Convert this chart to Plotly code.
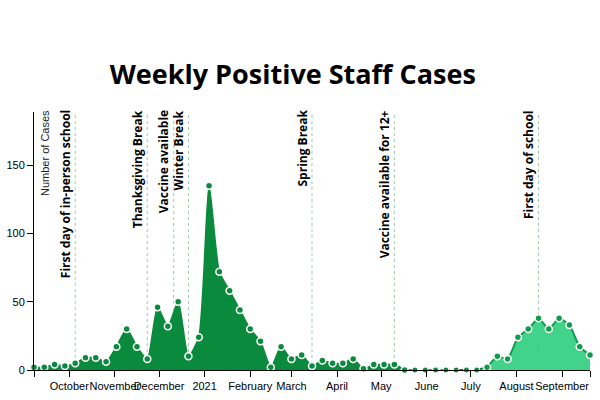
import pandas as pd
import plotly.graph_objects as go

# ---- data ----
year1_start = "2020-09-07"
year1_cases = [2, 2, 4, 3, 5, 9, 9, 6, 17, 30, 17, 8, 46, 32, 50, 10, 24,
               135, 72, 58, 44, 30, 21, 2, 17, 8, 11, 3, 7, 5, 5, 8, 1, 4, 4, 4, 0]
summer_start = "2021-05-17"
summer_cases = [0, 0, 0, 0, 0, 0, 0, 0, 2]
year2_start = "2021-07-12"
year2_cases = [2, 10, 8, 24, 30, 38, 30, 38, 33, 17, 11]

event_dates = ["2020-10-05", "2020-11-23", "2020-12-11", "2020-12-21",
               "2021-03-15", "2021-05-10", "2021-08-16"]
event_labels = ["First day of in-person school", "Thanksgiving Break",
                "Vaccine available", "Winter Break", "Spring Break",
                "Vaccine available for 12+", "First day of school"]

tick_dates = ["2020-09-07", "2020-10-01", "2020-11-01", "2020-12-01", "2021-01-01",
              "2021-02-01", "2021-03-01", "2021-04-01", "2021-05-01", "2021-06-01",
              "2021-07-01", "2021-08-01", "2021-09-01", "2021-09-20"]
tick_text = ["", "October", "November", "December", "2021", "February", "March",
             "April", "May", "June", "July", "August", "September", ""]

y_ticks = [0, 50, 100, 150]

x1 = pd.date_range(year1_start, periods=len(year1_cases), freq="7D")
xs = pd.date_range(summer_start, periods=len(summer_cases), freq="7D")
x2 = pd.date_range(year2_start, periods=len(year2_cases), freq="7D")

DARK = "#0a8a3c"
LIGHT_FILL = "rgba(52,208,130,0.93)"
LIGHT_LINE = "#0e9e4a"

fig = go.Figure()

fig.add_trace(go.Scatter(
    x=xs, y=summer_cases, mode="lines+markers",
    line=dict(color=DARK, width=2, dash="dash"),
    marker=dict(size=6, color=DARK, line=dict(color="white", width=1)),
    cliponaxis=False, hoverinfo="skip"))

fig.add_trace(go.Scatter(
    x=x1, y=year1_cases, mode="lines+markers", fill="tozeroy",
    fillcolor=DARK, line=dict(color=DARK, width=1.5, shape="spline", smoothing=0.6),
    marker=dict(size=7, color=DARK, line=dict(color="white", width=1.5)),
    cliponaxis=False, hoverinfo="skip"))

fig.add_trace(go.Scatter(
    x=x2, y=year2_cases, mode="lines+markers", fill="tozeroy",
    fillcolor=LIGHT_FILL, line=dict(color=LIGHT_LINE, width=2, shape="spline", smoothing=0.4),
    marker=dict(size=7, color=LIGHT_LINE, line=dict(color="white", width=1.5)),
    cliponaxis=False, hoverinfo="skip"))

shapes = []
annotations = []
for d, lab in zip(event_dates, event_labels):
    shapes.append(dict(type="line", xref="x", yref="paper", x0=d, x1=d, y0=0, y1=1,
                       line=dict(color="rgba(60,170,100,0.55)", width=1, dash="dot"),
                       layer="below"))
    annotations.append(dict(x=d, xref="x", y=1, yref="paper", text=lab,
                            textangle=-90, showarrow=False, xanchor="center",
                            yanchor="top", xshift=-10, yshift=4,
                            font=dict(family="Open Sans", size=12, color="black",
                                      weight="bold")))

annotations.append(dict(x=0, xref="paper", y=1, yref="paper", text="Number of Cases",
                        textangle=-90, showarrow=False, xanchor="center", yanchor="top",
                        xshift=11, yshift=4,
                        font=dict(family="Liberation Sans", size=11, color="#222")))

fig.update_layout(
    width=600, height=400,
    margin=dict(l=34, r=10, t=112, b=30),
    paper_bgcolor="white", plot_bgcolor="white",
    showlegend=False,
    title=dict(text="Weekly Positive Staff Cases", xref="container", yref="container",
               x=0.488, xanchor="center", y=1 - 75 / 400, yanchor="middle",
               font=dict(family="Open Sans", size=27, color="black", weight="bold")),
    shapes=shapes, annotations=annotations,
    xaxis=dict(type="date", range=[year1_start, "2021-09-20"],
               tickvals=tick_dates, ticktext=tick_text, tickangle=0, automargin=False,
               showline=True, linecolor="black", linewidth=1,
               ticks="outside", ticklen=6, tickcolor="black",
               showgrid=False, zeroline=False,
               tickfont=dict(family="Liberation Sans", size=11, color="black")),
    yaxis=dict(range=[0, 189], tickvals=y_ticks, automargin=False,
               showline=True, linecolor="black", linewidth=1,
               ticks="outside", ticklen=6, tickcolor="black",
               showgrid=False, zeroline=False,
               tickfont=dict(family="Liberation Sans", size=11, color="black")),
)

fig.write_html("out.html")
